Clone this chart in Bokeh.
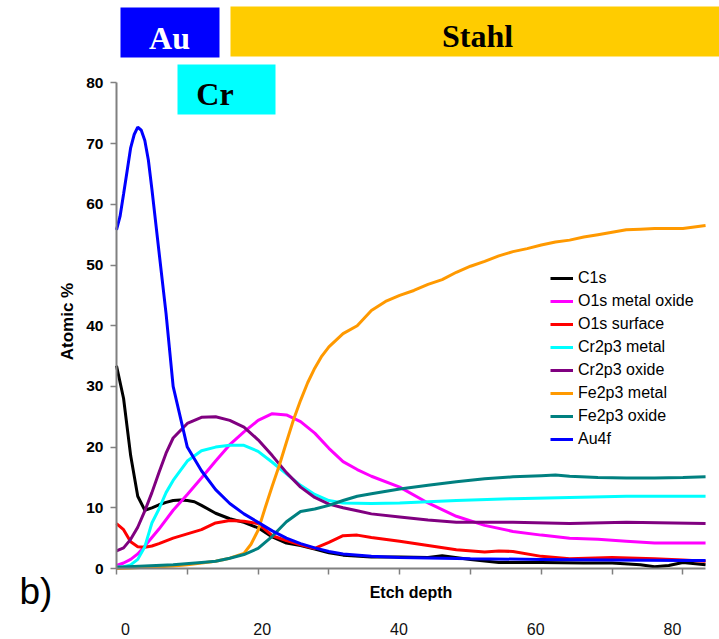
from math import pi
from bokeh.plotting import figure
from bokeh.models import (Range1d, LinearAxis, FixedTicker, Legend, LegendItem,
                          Label, BoxAnnotation)
from bokeh.embed import file_html
from bokeh.resources import INLINE

# ---------------- data (etch depth in plot units, atomic %) ----------------
c1s_x = [0, 1, 2, 3, 4, 5, 6, 7, 8, 9, 10, 11, 12, 14, 16, 18, 20, 22, 24, 26, 28, 30,
         32, 36, 40, 44, 46, 50, 54, 60, 66, 70, 74, 76, 78, 80, 83.2]
c1s_y = [33.4, 28, 18.6, 11.9, 9.6, 10.0, 10.5, 10.9, 11.2, 11.3, 11.2, 11.0, 10.4, 9.1,
         8.2, 7.6, 6.7, 5.2, 4.2, 3.8, 3.2, 2.6, 2.2, 1.9, 1.9, 1.8, 2.1, 1.5, 1.0, 1.0,
         0.9, 0.9, 0.6, 0.3, 0.5, 1.0, 0.6]

o1s_ox_x = [0, 1, 2, 3, 4, 5, 6, 8, 10, 12, 14, 16, 18, 20, 22, 24, 26, 28, 30, 32, 34,
            36, 40, 44, 48, 52, 56, 60, 64, 68, 72, 76, 80, 83.2]
o1s_ox_y = [0.5, 0.9, 1.5, 2.4, 3.7, 5.1, 6.5, 9.6, 12.2, 14.9, 17.7, 20.4, 22.5, 24.4,
            25.5, 25.3, 24.2, 22.3, 19.8, 17.6, 16.3, 15.2, 13.4, 10.8, 8.6, 7.1, 6.1,
            5.5, 5.0, 4.8, 4.5, 4.2, 4.2, 4.2]

o1s_surf_x = [0, 1, 2, 3, 4, 5, 6, 8, 10, 12, 14, 16, 18, 20, 22, 24, 26, 28, 30, 32, 34,
              36, 40, 44, 48, 52, 54, 56, 60, 64, 70, 76, 80, 83.2]
o1s_surf_y = [7.4, 6.4, 4.4, 3.6, 3.5, 3.7, 4.1, 5.0, 5.7, 6.4, 7.5, 7.9, 7.8, 7.4, 5.4,
              4.6, 3.9, 3.3, 4.3, 5.4, 5.5, 5.1, 4.5, 3.8, 3.1, 2.7, 2.9, 2.8, 2.0, 1.6,
              1.8, 1.6, 1.4, 1.2]

cr_met_x = [0, 1, 2, 3, 4, 5, 6, 7, 8, 10, 12, 14, 16, 18, 20, 22, 24, 26, 28, 30, 32, 36,
            40, 48, 56, 64, 72, 83.2]
cr_met_y = [0.2, 0.3, 0.6, 1.5, 3.6, 7.5, 9.8, 12.5, 14.5, 17.7, 19.4, 20.0, 20.3, 20.3,
            19.3, 17.5, 15.6, 13.7, 12.2, 11.2, 10.8, 10.7, 10.8, 11.2, 11.5, 11.7, 11.9,
            11.9]

cr_ox_x = [0, 1, 2, 3, 4, 5, 6, 7, 8, 10, 12, 14, 16, 18, 20, 22, 24, 26, 28, 30, 32, 34,
           36, 40, 44, 48, 56, 64, 72, 83.2]
cr_ox_y = [2.9, 3.4, 4.8, 6.8, 9.5, 12.5, 15.8, 19.0, 21.5, 23.9, 24.9, 25.0, 24.4, 23.3,
           21.2, 18.6, 15.8, 13.4, 11.7, 10.6, 10.0, 9.5, 9.0, 8.5, 8.0, 7.6, 7.6, 7.4,
           7.6, 7.4]

fe_met_x = [0, 2, 4, 6, 8, 10, 12, 14, 16, 18, 19, 20, 21, 22, 23, 24, 25, 26, 27, 28,
            29, 30, 32, 34, 36, 38, 40, 42, 44, 46, 48, 50, 52, 54, 56, 58, 60, 62, 64,
            66, 68, 70, 72, 74, 76, 78, 80, 83.2]
fe_met_y = [0, 0.1, 0.2, 0.3, 0.4, 0.6, 0.9, 1.2, 1.7, 2.5, 4.0, 6.3, 10.0, 13.6, 17.0,
            20.8, 24.5, 27.7, 30.6, 33.0, 35.0, 36.5, 38.7, 40.0, 42.5, 44.0, 45.0, 45.8,
            46.8, 47.6, 48.8, 49.8, 50.6, 51.5, 52.2, 52.7, 53.3, 53.8, 54.1, 54.6, 55.0,
            55.4, 55.8, 55.9, 56.0, 56.0, 56.0, 56.5]

fe_ox_x = [0, 4, 8, 12, 14, 16, 18, 20, 22, 24, 26, 28, 30, 32, 34, 36, 40, 44, 48, 52,
           56, 60, 62, 64, 68, 72, 76, 80, 83.2]
fe_ox_y = [0.2, 0.4, 0.6, 1.0, 1.2, 1.7, 2.3, 3.3, 5.3, 7.7, 9.4, 9.8, 10.4, 11.2, 11.9,
           12.3, 13.1, 13.7, 14.3, 14.8, 15.1, 15.3, 15.4, 15.2, 15.0, 14.9, 14.9, 15.0,
           15.1]

au_x = [0, 0.5, 1, 1.5, 2, 2.5, 3, 3.5, 4, 4.5, 5, 6, 7, 8, 10, 12, 14, 16, 18, 20, 22,
        24, 26, 28, 30, 32, 36, 40, 50, 60, 70, 80, 83.2]
au_y = [55.8, 58.0, 61.7, 65.5, 69.3, 71.5, 72.7, 72.2, 70.5, 67.3, 62.5, 52.2, 42, 30,
        20, 16.1, 13, 10.7, 9, 7.6, 6.2, 5.0, 4.1, 3.4, 2.8, 2.4, 2.0, 1.8, 1.6, 1.5,
        1.4, 1.3, 1.3]

series_names = ["C1s", "O1s metal oxide", "O1s surface", "Cr2p3 metal", "Cr2p3 oxide",
                "Fe2p3 metal", "Fe2p3 oxide", "Au4f"]
series_x = [c1s_x, o1s_ox_x, o1s_surf_x, cr_met_x, cr_ox_x, fe_met_x, fe_ox_x, au_x]
series_y = [c1s_y, o1s_ox_y, o1s_surf_y, cr_met_y, cr_ox_y, fe_met_y, fe_ox_y, au_y]
series_colors = ["#000000", "#FF00FF", "#FF0000", "#00FFFF", "#800080", "#FF9900",
                 "#008080", "#0000FF"]

y_ticks = [0, 10, 20, 30, 40, 50, 60, 70, 80]
x_axis_ticks = [0, 10, 20, 30, 40, 50, 60, 70, 80]
depth_labels = [0, 20, 40, 60, 80]

# ---------------- layout (pixels) ----------------
W, H = 719, 639
X0, XS = 116, 7.08        # pixel of x=0, pixels per x unit
Y0, YS = 568, 6.07        # pixel of y=0, pixels per y unit
L0, LS = 125, 6.8375      # depth-label scale: pixel of label 0, pixels per unit


def dx(px):
    return (px - X0) / XS


def dy(py):
    return (Y0 - py) / YS


SANS = "Liberation Sans"
SERIF = "Liberation Serif"

# layer boxes: text, left px, right px, top px, bottom px, fill, text colour, text centre px
layers = [
    ("Au", 120, 219, 7, 57, "#0000FF", "#FFFFFF", (169, 37)),
    ("Stahl", 230, 719, 6, 56, "#FFCC00", "#000000", (477, 35)),
    ("Cr", 177, 275, 64, 114, "#00FFFF", "#000000", (214.5, 93.5)),
]

p = figure(width=W, height=H, output_backend="svg", toolbar_location=None,
           x_range=Range1d(dx(0), dx(W)), y_range=Range1d(dy(H), dy(0)),
           min_border=0)
p.outline_line_color = None
p.grid.visible = False

# main x axis (tick marks only, drawn as minor ticks so no labels), at y = 0
xa = p.xaxis[0]
xa.fixed_location = 0
xa.ticker = FixedTicker(ticks=[], minor_ticks=x_axis_ticks)
xa.bounds = (0, 83.2)
xa.axis_line_color = "#808080"
xa.axis_line_width = 2
xa.major_tick_line_color = None
xa.major_tick_out = 0
xa.major_tick_in = 0
xa.minor_tick_line_color = "#808080"
xa.minor_tick_line_width = 1.5
xa.minor_tick_out = 6
xa.minor_tick_in = 0
xa.major_label_standoff = 0
xa.axis_label = "Etch depth"
xa.axis_label_text_font = SANS
xa.axis_label_text_font_size = "16px"
xa.axis_label_text_font_style = "bold"
xa.axis_label_text_color = "#000000"
xa.axis_label_standoff = 9

# depth labels axis
p.extra_x_ranges = {"lbl": Range1d((0 - L0) / LS, (W - L0) / LS)}
xa2 = LinearAxis(x_range_name="lbl", ticker=FixedTicker(ticks=depth_labels),
                 fixed_location=0, axis_line_color=None, major_tick_line_color=None,
                 minor_tick_line_color=None, major_tick_out=0, major_tick_in=0,
                 major_label_standoff=54, major_label_text_font=SANS,
                 major_label_text_font_size="16px", major_label_text_color="#111111")
p.add_layout(xa2, "below")

ya = p.yaxis[0]
ya.fixed_location = 0
ya.ticker = FixedTicker(ticks=y_ticks)
ya.bounds = (0, 80)
ya.axis_line_color = "#808080"
ya.axis_line_width = 2
ya.major_tick_line_color = "#808080"
ya.major_tick_line_width = 1.5
ya.major_tick_out = 6
ya.major_tick_in = 0
ya.minor_tick_line_color = None
ya.major_label_standoff = 7
ya.major_label_text_font = SANS
ya.major_label_text_font_size = "15.5px"
ya.major_label_text_font_style = "bold"
ya.major_label_text_color = "#000000"

renderers = []
for name, xs, ys, col in zip(series_names, series_x, series_y, series_colors):
    r = p.line(xs, ys, line_color=col, line_width=3)
    renderers.append((name, r))

legend = Legend(items=[LegendItem(label=n, renderers=[r]) for n, r in renderers],
                location=(550, H - 449), background_fill_alpha=0, border_line_color=None,
                padding=0, margin=0, spacing=3, glyph_width=23, glyph_height=20,
                label_height=20, label_standoff=5, label_text_font=SANS,
                label_text_font_size="16px", label_text_color="#000000")
p.add_layout(legend)

for txt, l, r, t, b, fill, tcol, (tx, ty) in layers:
    p.add_layout(BoxAnnotation(left=dx(l), right=dx(r), bottom=dy(b), top=dy(t),
                               fill_color=fill, fill_alpha=1, line_color=None))
    p.add_layout(Label(x=dx(tx), y=dy(ty), text=txt, text_align="center",
                       text_baseline="middle", text_font=SERIF,
                       text_font_size="32px", text_font_style="bold",
                       text_color=tcol))

p.add_layout(Label(x=dx(67), y=dy(321), text="Atomic %", angle=pi / 2,
                   text_align="center", text_baseline="middle", text_font=SANS,
                   text_font_size="17px", text_font_style="bold",
                   text_color="#000000"))
p.add_layout(Label(x=dx(19), y=dy(591), text="b)", text_align="left",
                   text_baseline="middle", text_font=SANS, text_font_size="37px",
                   text_color="#000000"))

open("out.html", "w").write(file_html(p, INLINE))
